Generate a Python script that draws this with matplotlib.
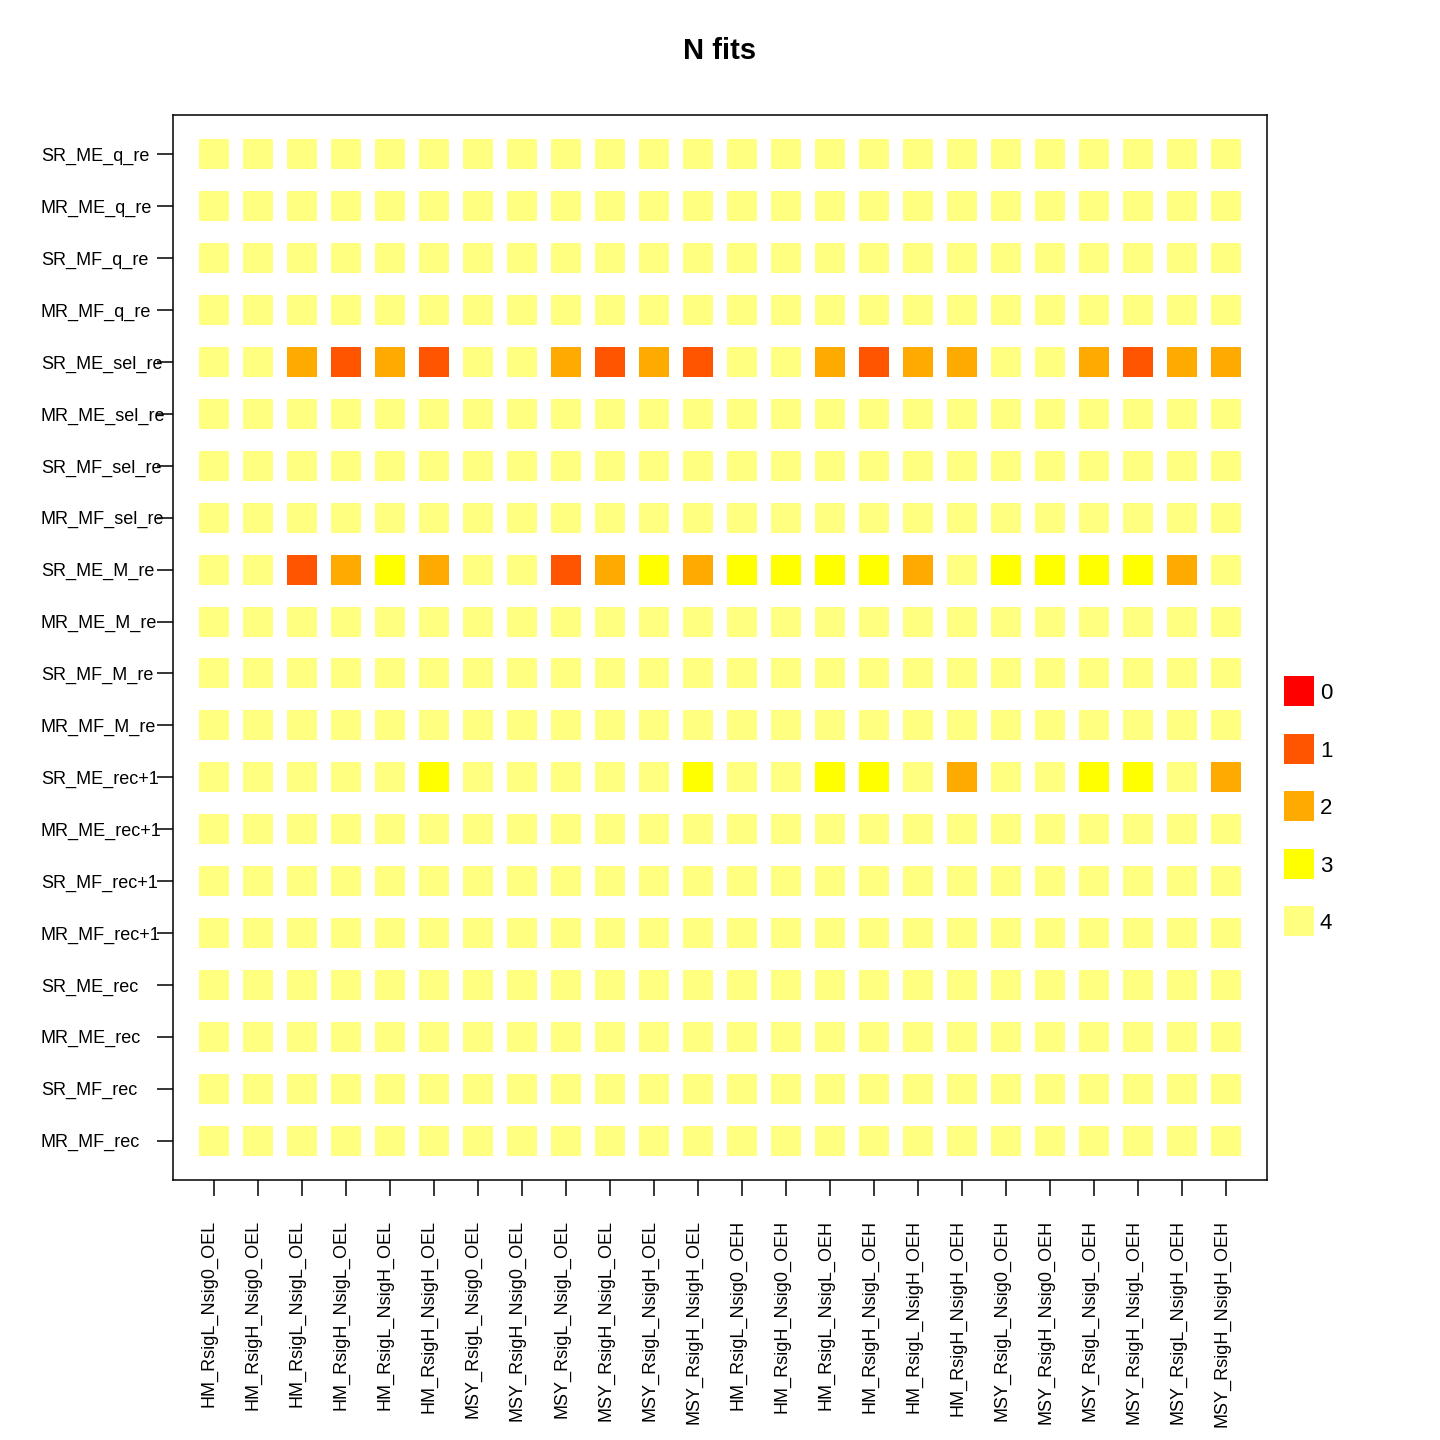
import numpy as np
import matplotlib
matplotlib.use('Agg')
import matplotlib.pyplot as plt
from matplotlib.transforms import blended_transform_factory

plt.rcParams['font.family'] = ['Liberation Sans', 'DejaVu Sans']

rows = ['SR_ME_q_re', 'MR_ME_q_re', 'SR_MF_q_re', 'MR_MF_q_re',
        'SR_ME_sel_re', 'MR_ME_sel_re', 'SR_MF_sel_re', 'MR_MF_sel_re',
        'SR_ME_M_re', 'MR_ME_M_re', 'SR_MF_M_re', 'MR_MF_M_re',
        'SR_ME_rec+1', 'MR_ME_rec+1', 'SR_MF_rec+1', 'MR_MF_rec+1',
        'SR_ME_rec', 'MR_ME_rec', 'SR_MF_rec', 'MR_MF_rec']

cols = []
for oe in ['OEL', 'OEH']:
    for hcr in ['HM', 'MSY']:
        for nsig in ['Nsig0', 'NsigL', 'NsigH']:
            for rsig in ['RsigL', 'RsigH']:
                cols.append(f'{hcr}_{rsig}_{nsig}_{oe}')

# rows with fewer than 4 successful fits; all others are 4
sel_re_row = [4, 4, 2, 1, 2, 1, 4, 4, 2, 1, 2, 1, 4, 4, 2, 1, 2, 2, 4, 4, 2, 1, 2, 2]
m_re_row = [4, 4, 1, 2, 3, 2, 4, 4, 1, 2, 3, 2, 3, 3, 3, 3, 2, 4, 3, 3, 3, 3, 2, 4]
rec1_row = [4, 4, 4, 4, 4, 3, 4, 4, 4, 4, 4, 3, 4, 4, 3, 3, 4, 2, 4, 4, 3, 3, 4, 2]

levels = [0, 1, 2, 3, 4]
level_colors = ['#FF0000', '#FF5500', '#FFAA00', '#FFFF00', '#FFFF80']

nfits = np.full((len(rows), len(cols)), 4)
nfits[rows.index('SR_ME_sel_re')] = sel_re_row
nfits[rows.index('SR_ME_M_re')] = m_re_row
nfits[rows.index('SR_ME_rec+1')] = rec1_row

W, H, DPI = 1440, 1440, 100
fig = plt.figure(figsize=(W / DPI, H / DPI), dpi=DPI)
ax = fig.add_axes([173 / W, 1 - 1180 / H, (1267 - 173) / W, (1180 - 115) / H])

nr, nc = len(rows), len(cols)
xx, yy = np.meshgrid(np.arange(1, nc + 1), np.arange(1, nr + 1))
cvals = np.array(level_colors)[nfits]
ax.scatter(xx.ravel(), yy.ravel(), s=21.6 ** 2, marker='s', c=cvals.ravel(), linewidths=0)

ax.set_xlim(1 - 0.04 * (nc - 1), nc + 0.04 * (nc - 1))
ax.set_ylim(nr + 0.04 * (nr - 1), 1 - 0.04 * (nr - 1))
for sp in ax.spines.values():
    sp.set_linewidth(1.1)

ax.set_xticks(np.arange(1, nc + 1))
ax.set_yticks(np.arange(1, nr + 1))
ax.set_xticklabels([])
ax.set_yticklabels([])
ax.tick_params(axis='both', length=11.5, width=1.1, color='black')

ytr = blended_transform_factory(fig.transFigure, ax.transData)
for i, r in enumerate(rows):
    ax.text(41 / W, i + 1, r, transform=ytr, ha='left', va='center_baseline', fontsize=13)

xtr = blended_transform_factory(ax.transData, fig.transFigure)
for j, c in enumerate(cols):
    ax.text(j + 1, 1 - 1220 / H, c, transform=xtr, rotation=90, rotation_mode='anchor',
            ha='right', va='baseline', fontsize=13)

fig.text(0.5, 1 - 48 / H, 'N fits', ha='center', va='center_baseline', fontsize=21, fontweight='bold')

# legend
for k, (lv, col) in enumerate(zip(levels, level_colors)):
    yc = 1 - (691 + 57.6 * k) / H
    fig.patches.append(plt.Rectangle((1284 / W, yc - 15 / H), 30 / W, 30 / H,
                                     transform=fig.transFigure, color=col, lw=0))
    fig.text(1320 / W, yc, str(lv), ha='left', va='center_baseline', fontsize=16)

fig.savefig('out.png', dpi=DPI)
